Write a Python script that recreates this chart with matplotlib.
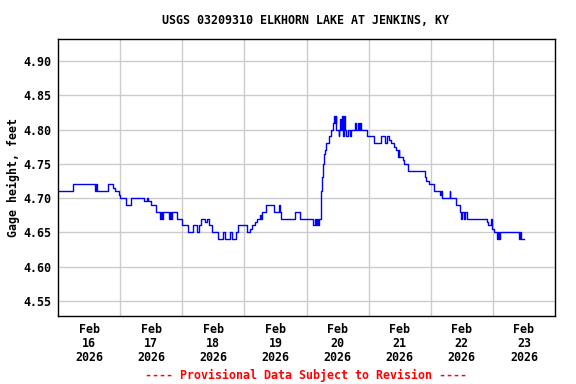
import matplotlib
matplotlib.use('Agg')
import matplotlib.pyplot as plt

# step change points: hours since Feb 16 00:00, gage height (ft)
hours = [0.0, 5.9, 14.3, 14.6, 15.0, 19.5, 21.2, 22.0, 23.5, 24.0,
         26.2, 28.2, 33.4, 34.3, 34.9, 35.9, 37.8, 39.5, 39.8, 40.2,
         40.7, 42.7, 43.3, 43.7, 44.1, 45.9, 47.8, 50.2, 52.3, 53.6,
         54.3, 55.3, 56.9, 57.6, 58.4, 59.4, 62.0, 63.9, 64.5, 66.5,
         67.2, 68.9, 69.7, 73.0, 74.0, 74.9, 76.2, 76.9, 77.9, 78.3,
         78.8, 80.3, 83.6, 85.2, 85.6, 86.3, 91.4, 93.6, 98.7, 99.1,
         99.5, 99.9, 100.3, 100.7, 101.6, 101.8, 102.3, 102.9, 103.3, 103.7,
         104.6, 105.5, 106.3, 106.8, 107.2, 107.3, 107.5, 108.4, 108.7, 109.1,
         109.5, 109.9, 110.2, 110.6, 111.0, 111.4, 111.9, 112.8, 113.1, 114.9,
         115.3, 115.8, 116.2, 116.8, 117.2, 119.4, 121.9, 124.6, 126.5, 127.1,
         128.0, 128.8, 129.7, 130.6, 131.4, 131.7, 131.9, 133.1, 133.8, 135.2,
         141.6, 142.3, 143.2, 145.2, 147.5, 147.9, 148.4, 151.4, 151.6, 153.6,
         155.2, 155.6, 155.9, 157.0, 157.4, 158.1, 165.6, 166.1, 167.4, 167.6,
         168.4, 169.7, 169.9, 170.2, 170.6, 178.0, 178.4, 178.7, 180.2]
gage = [4.71, 4.72, 4.71, 4.72, 4.71, 4.72, 4.715, 4.71, 4.705, 4.70,
        4.69, 4.70, 4.695, 4.70, 4.695, 4.69, 4.68, 4.67, 4.68, 4.67,
        4.68, 4.67, 4.68, 4.67, 4.68, 4.67, 4.66, 4.65, 4.66, 4.65,
        4.66, 4.67, 4.665, 4.67, 4.66, 4.65, 4.64, 4.65, 4.64, 4.65,
        4.64, 4.65, 4.66, 4.65, 4.655, 4.66, 4.665, 4.67, 4.675, 4.67,
        4.68, 4.69, 4.68, 4.69, 4.68, 4.67, 4.68, 4.67, 4.66, 4.67,
        4.66, 4.67, 4.66, 4.67, 4.71, 4.73, 4.75, 4.765, 4.77, 4.78,
        4.79, 4.80, 4.81, 4.82, 4.81, 4.82, 4.80, 4.79, 4.80, 4.815,
        4.80, 4.82, 4.79, 4.82, 4.80, 4.79, 4.80, 4.79, 4.80, 4.81,
        4.80, 4.81, 4.80, 4.81, 4.80, 4.79, 4.78, 4.79, 4.78, 4.79,
        4.785, 4.78, 4.775, 4.77, 4.76, 4.77, 4.76, 4.755, 4.75, 4.74,
        4.73, 4.725, 4.72, 4.71, 4.705, 4.71, 4.70, 4.71, 4.70, 4.69,
        4.68, 4.67, 4.68, 4.67, 4.68, 4.67, 4.665, 4.66, 4.67, 4.655,
        4.65, 4.64, 4.65, 4.64, 4.65, 4.64, 4.65, 4.64, 4.64]

days = ['16', '17', '18', '19', '20', '21', '22', '23']
y_ticks = [4.55, 4.60, 4.65, 4.70, 4.75, 4.80, 4.85, 4.90]

font = 'DejaVu Sans Mono'
fs = 8.4

fig = plt.figure(figsize=(5.76, 3.84), dpi=100)
ax = fig.add_axes([58 / 576, 1 - 316 / 384, 497 / 576, 277 / 384])

ax.plot(hours, gage, color='#0000ff', linewidth=1, drawstyle='steps-post')

ax.set_xlim(0, 192)
ax.set_ylim(4.528, 4.932)

ax.set_xticks([12 + 24 * i for i in range(len(days))])
ax.set_xticklabels(['Feb\n' + d + '\n2026' for d in days],
                   fontfamily=font, fontweight='bold', fontsize=fs, linespacing=1.1)
ax.set_xticks([24 * i for i in range(1, 8)], minor=True)
ax.set_yticks(y_ticks)
ax.set_yticklabels(['%.2f' % v for v in y_ticks],
                   fontfamily=font, fontweight='bold', fontsize=fs)
ax.tick_params(axis='both', which='both', length=0)
ax.tick_params(axis='x', pad=5)
ax.tick_params(axis='y', pad=5)

ax.grid(True, which='minor', axis='x', color='#cccccc', linewidth=1)
ax.grid(True, which='major', axis='y', color='#cccccc', linewidth=1)
ax.set_axisbelow(True)
for s in ax.spines.values():
    s.set_linewidth(1)
    s.set_color('black')

ax.set_ylabel('Gage height, feet', fontfamily=font, fontweight='bold', fontsize=fs,
              labelpad=2)
fig.text(306 / 576, 1 - 20 / 384, 'USGS 03209310 ELKHORN LAKE AT JENKINS, KY',
         ha='center', va='center', fontfamily=font, fontweight='bold', fontsize=fs)
fig.text(306 / 576, 1 - 375 / 384, '---- Provisional Data Subject to Revision ----',
         ha='center', va='center', fontfamily=font, fontweight='bold', fontsize=fs,
         color='red')

fig.savefig('out.png', dpi=100)
